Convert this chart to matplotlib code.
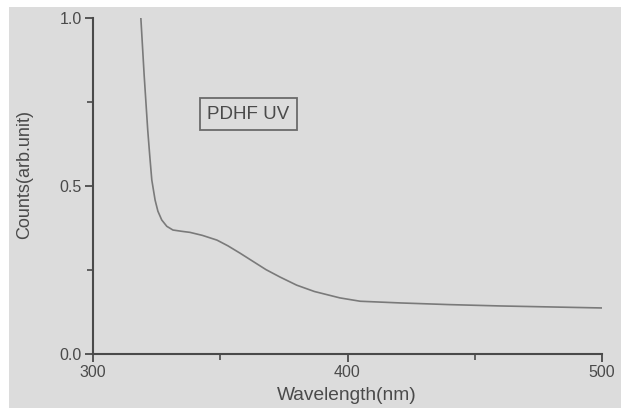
import numpy as np
import matplotlib.pyplot as plt
from matplotlib.ticker import MultipleLocator
from matplotlib.patches import Rectangle

# PDHF UV absorption
wavelength = [318.8, 320.1, 321.5, 322.3, 323.1, 324.4, 325.5, 327.0, 329.0,
              331.4, 335.0, 338.1, 343.0, 348.7, 353.0, 357.8, 363.0, 368.0,
              373.5, 380.0, 387.0, 397.0, 405.0, 420.6, 440.0, 460.0, 480.0, 500.0]
counts = [1.00, 0.83, 0.667, 0.59, 0.518, 0.458, 0.425, 0.399, 0.380,
          0.369, 0.365, 0.362, 0.353, 0.339, 0.322, 0.300, 0.275, 0.251,
          0.229, 0.205, 0.186, 0.167, 0.157, 0.152, 0.147, 0.143, 0.140, 0.137]
x_ticks = [300, 400, 500]
y_ticks = [0.0, 0.5, 1.0]

plt.rcParams['font.family'] = ['Liberation Sans', 'DejaVu Sans']
ink = '#4a4a4a'

fig = plt.figure(figsize=(6.21, 4.08), dpi=100, facecolor='white')
# scanned page background
fig.patches.append(Rectangle((9 / 621, 0), 1, 1 - 7 / 408, transform=fig.transFigure,
                             facecolor='#dcdcdc', edgecolor='none', zorder=-10))

ax = fig.add_axes([93 / 621, 1 - 354 / 408, 509 / 621, 336 / 408])
ax.set_facecolor('none')
ax.plot(wavelength, counts, color='#7a7a7a', lw=1.2)

ax.set_xlim(300, 500)
ax.set_ylim(0.0, 1.0)
ax.set_xticks(x_ticks)
ax.set_yticks(y_ticks)
ax.yaxis.set_major_formatter(plt.FormatStrFormatter('%.1f'))
ax.xaxis.set_minor_locator(MultipleLocator(50))
ax.yaxis.set_minor_locator(MultipleLocator(0.25))

for side in ['top', 'right']:
    ax.spines[side].set_visible(False)
for side in ['left', 'bottom']:
    ax.spines[side].set_color(ink)
    ax.spines[side].set_linewidth(1.5)

ax.tick_params(which='major', direction='out', length=6, width=1.3, color=ink,
               labelcolor=ink, labelsize=11.5, pad=2)
ax.tick_params(which='minor', direction='out', length=4, width=1.2, color=ink)

ax.set_xlabel('Wavelength(nm)', fontsize=13.8, color=ink)
ax.xaxis.set_label_coords(0.499, -0.098)
ax.set_ylabel('Counts(arb.unit)', fontsize=13, color=ink)
ax.yaxis.set_label_coords(-0.118, 0.533)

ax.text(361, 0.714, 'PDHF UV', fontsize=13.5, color=ink, ha='center', va='center',
        bbox=dict(boxstyle='square,pad=0.4', facecolor='none', edgecolor='#6a6a6a', lw=1.3))

fig.savefig('out.png', dpi=100, facecolor=fig.get_facecolor())
